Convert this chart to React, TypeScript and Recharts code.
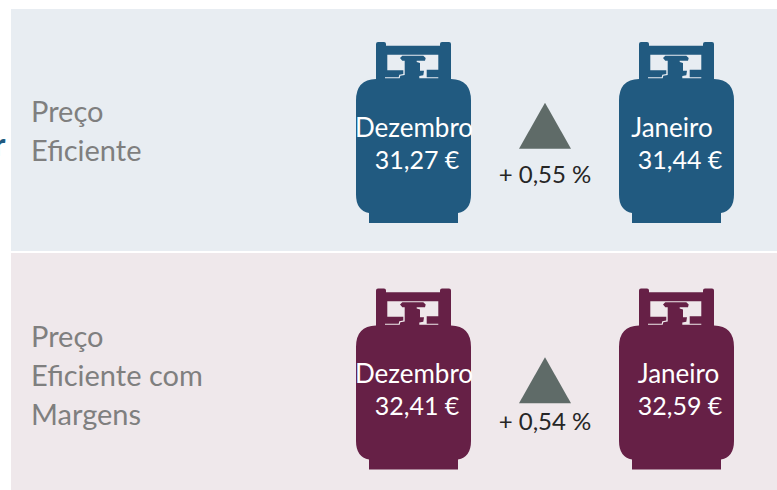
import { ScatterChart, Scatter, XAxis, YAxis } from 'recharts';

const rows = ['Preço Eficiente', 'Preço Eficiente com Margens'];
const rowLines: Record<string, string[]> = {
  'Preço Eficiente': ['Preço', 'Eficiente'],
  'Preço Eficiente com Margens': ['Preço', 'Eficiente com', 'Margens'],
};
const months = ['Dezembro', 'Janeiro'];
const efficientPrices = [31.27, 31.44];
const marginPrices = [32.41, 32.59];
const changeLabel = 'Variação';
const changes = [0.55, 0.54];

const euro = (v: number) => v.toFixed(2).replace('.', ',') + ' €';
const pct = (v: number) => '+ ' + v.toFixed(2).replace('.', ',') + ' %';

const monthData = (i: number) => [
  { column: months[i], row: rows[0], rowIndex: 0, month: months[i], price: efficientPrices[i] },
  { column: months[i], row: rows[1], rowIndex: 1, month: months[i], price: marginPrices[i] },
];
const changeData = rows.map((row, i) => ({ column: changeLabel, row, rowIndex: i, change: changes[i] }));

const FONT = 'Lato, sans-serif';
const ROW_COLORS = ['#215a80', '#662046'];
const PANELS = [
  { top: 9, height: 242, background: '#e8edf2' },
  { top: 253, height: 237, background: '#efe8eb' },
];

// label nudges inside each cylinder, the source slide is not quite centred
const nudge = (rowIndex: number, month: string) => {
  if (month === 'Dezembro') return { name: 0.5, price: 3.5 };
  return rowIndex === 0 ? { name: -4.5, price: 3.5 } : { name: 2, price: 3.5 };
};

const BODY =
  'M-37.5 -88.5Q-37.5 -90.5 -35.5 -90.5L-29.5 -90.5Q-27.5 -90.5 -27.5 -88.5L-27.5 -86.8L26.5 -86.8L26.5 -88.5Q26.5 -90.5 28.5 -90.5L35.5 -90.5Q37.5 -90.5 37.5 -88.5L37.5 -53.5Q57.5 -53 57.5 -32L57.5 62Q57.5 78 44.5 80.5L44.5 90.5L-44.5 90.5L-44.5 80.5Q-57.5 78 -57.5 62L-57.5 -32Q-57.5 -53 -37.5 -53.5Z';
const VALVE_HOLE =
  'M-26.2 -77.8L24.8 -77.8L24.8 -62.8L13.2 -62.8L13.2 -55.2L24.8 -55.2L24.8 -54.2L5.8 -54.2L5.8 -56.5L9.8 -57.2L10.5 -61.8L6.5 -61.8L6.5 -69.5L3.2 -70.5L3.2 -71.8L11.5 -71.8L12.2 -74.5L9.8 -76.8L-11.2 -76.8L-13.5 -74.5L-11.2 -71.8L-8.8 -71.8L-8.8 -57.5L-13.2 -56.8L-13.8 -54.2L-28.5 -54.2L-28.5 -55.2L-14.8 -55.2L-14.2 -57.8L-10.2 -58.5L-10.2 -62.2L-26.2 -62.2Z';

function Cylinder(props: any) {
  const { cx, cy, payload } = props;
  const n = nudge(payload.rowIndex, payload.month);
  const dy = payload.rowIndex === 0 ? 0 : -1;
  return (
    <g>
      <path transform={`translate(${cx} ${cy})`} d={BODY + VALVE_HOLE} fillRule="evenodd" fill={ROW_COLORS[payload.rowIndex]} />
      <text x={cx + n.name} y={cy + 4.5 + dy} textAnchor="middle" fontFamily={FONT} fontSize={26} fill="#fff">
        {payload.month}
      </text>
      <text x={cx + n.price} y={cy + 36.5 + dy} textAnchor="middle" fontFamily={FONT} fontSize={25} fill="#fff">
        {euro(payload.price)}
      </text>
    </g>
  );
}

function ChangeMark(props: any) {
  const { cx, cy, payload } = props;
  const shift = payload.rowIndex === 0 ? 0 : 8;
  return (
    <g>
      <path d={`M${cx} ${cy - 29.8 + shift}L${cx + 26} ${cy + 16.2 + shift}L${cx - 26} ${cy + 16.2 + shift}Z`} fill="#5f6b68" />
      <text x={cx} y={cy + 50.5} textAnchor="middle" fontFamily={FONT} fontSize={24} fill="#262626">
        {pct(payload.change)}
      </text>
    </g>
  );
}

function RowTick(props: any) {
  const { y, payload } = props;
  const lines = rowLines[payload.value] ?? [];
  const first = y - ((lines.length - 1) * 39) / 2 + (lines.length === 2 ? 8.5 : 7);
  return (
    <g>
      {lines.map((line, i) => (
        <text key={line} x={31} y={first + i * 39} fontFamily={FONT} fontSize={29} fill="#7f7f7f">
          {line}
        </text>
      ))}
    </g>
  );
}

export default function App() {
  return (
    <div style={{ position: 'absolute', left: 0, top: 0, width: 777, height: 490, overflow: 'hidden', background: '#fff' }}>
      {PANELS.map((p) => (
        <div key={p.top} style={{ position: 'absolute', left: 11, right: 0, top: p.top, height: p.height, background: p.background }} />
      ))}
      <div style={{ position: 'absolute', left: -6.5, top: 126, fontFamily: FONT, fontSize: 32, fontWeight: 700, color: '#215a80', lineHeight: '36px' }}>r</div>
      <div style={{ position: 'absolute', left: 0, top: 0 }}>
        <ScatterChart width={777} height={490} margin={{ top: 132.5, right: 100.5, bottom: 111, left: 0 }}>
          <XAxis xAxisId={0} type="category" dataKey="column" scale="point" allowDuplicatedCategory={false} hide />
          <YAxis
            yAxisId={0}
            type="category"
            dataKey="row"
            scale="point"
            reversed
            width={413.5}
            allowDuplicatedCategory={false}
            axisLine={false}
            tickLine={false}
            tick={<RowTick />}
          />
          <Scatter data={monthData(0)} shape={<Cylinder />} isAnimationActive={false} />
          <Scatter data={changeData} shape={<ChangeMark />} isAnimationActive={false} />
          <Scatter data={monthData(1)} shape={<Cylinder />} isAnimationActive={false} />
        </ScatterChart>
      </div>
    </div>
  );
}
